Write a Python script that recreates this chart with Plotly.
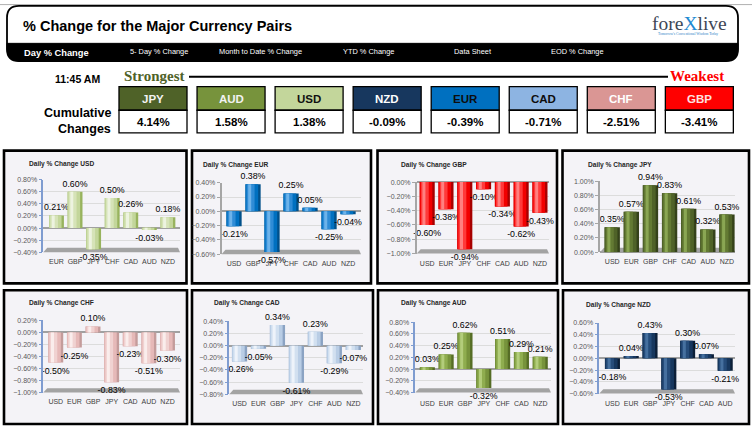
import plotly.graph_objects as go

W, H = 752, 431

# ---------------- data ----------------
strength_ccy = ["JPY", "AUD", "USD", "NZD", "EUR", "CAD", "CHF", "GBP"]
strength_val = [4.14, 1.58, 1.38, -0.09, -0.39, -0.71, -2.51, -3.41]

tab_labels = ["Day % Change", "5- Day % Change", "Month to Date % Change",
              "YTD % Change", "Data Sheet", "EOD % Change"]

usd_cats = ["EUR", "GBP", "JPY", "CHF", "CAD", "AUD", "NZD"]
usd_vals = [0.21, 0.60, -0.35, 0.50, 0.26, -0.03, 0.18]
eur_cats = ["USD", "GBP", "JPY", "CHF", "CAD", "AUD", "NZD"]
eur_vals = [-0.21, 0.38, -0.57, 0.25, 0.05, -0.25, -0.04]
gbp_cats = ["USD", "EUR", "JPY", "CHF", "CAD", "AUD", "NZD"]
gbp_vals = [-0.60, -0.38, -0.94, -0.10, -0.34, -0.62, -0.43]
jpy_cats = ["USD", "EUR", "GBP", "CHF", "CAD", "AUD", "NZD"]
jpy_vals = [0.35, 0.57, 0.94, 0.83, 0.61, 0.32, 0.53]
chf_cats = ["USD", "EUR", "GBP", "JPY", "CAD", "AUD", "NZD"]
chf_vals = [-0.50, -0.25, 0.10, -0.83, -0.23, -0.51, -0.30]
cad_cats = ["USD", "EUR", "GBP", "JPY", "CHF", "AUD", "NZD"]
cad_vals = [-0.26, -0.05, 0.34, -0.61, 0.23, -0.29, -0.07]
aud_cats = ["USD", "EUR", "GBP", "JPY", "CHF", "CAD", "NZD"]
aud_vals = [0.03, 0.25, 0.62, -0.32, 0.51, 0.29, 0.21]
nzd_cats = ["USD", "EUR", "GBP", "JPY", "CHF", "CAD", "AUD"]
nzd_vals = [-0.18, 0.04, 0.43, -0.53, 0.30, 0.07, -0.21]

# ---------------- styling / layout ----------------
box_fill = ["#4F6228", "#77933C", "#C3D69B", "#17375E", "#0070C0", "#8DB4E2", "#DA9694", "#FF0000"]
box_text = ["#F2F2F2", "#F2F2F2", "#111111", "#FFFFFF", "#0D0D0D", "#0D0D0D", "#FFFFFF", "#FFE0E0"]

BLUE_AX = "#7F9CD0"
GRAY_AX = "#A6A6A6"
SANS = "Arial, Liberation Sans, sans-serif"
SERIF = "Liberation Serif, Times New Roman, serif"

panels = [
    dict(name="USD", cats=usd_cats, vals=usd_vals, box=(4, 149, 186.5, 284),
         plot=(43.3, 178.7, 180, 252.3), xr=(-0.71, 6.65), yr=(-0.4, 0.8),
         title=(26.7, 162.3), gap=10, axis=BLUE_AX,
         col=("#98B35E", "#C3D69B", "#D6E3B8", "#EDF3E0")),
    dict(name="EUR", cats=eur_cats, vals=eur_vals, box=(192, 149, 371, 284),
         plot=(221.5, 181.7, 361, 254.3), xr=(-0.66, 6.68), yr=(-0.6, 0.4),
         title=(201, 163.3), gap=10, axis=GRAY_AX,
         col=("#00508A", "#0070C0", "#2F8CD6", "#6DB3EA")),
    dict(name="GBP", cats=gbp_cats, vals=gbp_vals, box=(377.5, 149, 557, 284),
         plot=(416.7, 181, 549, 253.7), xr=(-0.56, 6.48), yr=(-1.0, 0.0),
         title=(398.7, 163.3), gap=10, axis=GRAY_AX,
         col=("#A80000", "#F20000", "#FF3A3A", "#FF8080")),
    dict(name="JPY", cats=jpy_cats, vals=jpy_vals, box=(562.5, 149, 749, 284),
         plot=(600, 180, 735, 252.3), xr=(-0.64, 6.42), yr=(0.0, 1.0),
         title=(586, 163.3), gap=10, axis=GRAY_AX,
         col=("#35421A", "#4F6228", "#637A33", "#8AA653")),
    dict(name="CHF", cats=chf_cats, vals=chf_vals, box=(4, 291, 187, 427),
         plot=(43.3, 321.7, 180, 395), xr=(-0.67, 6.67), yr=(-1.0, 0.2),
         title=(26.7, 304.3), gap=9, axis=BLUE_AX,
         col=("#C49C9B", "#E6B9B8", "#F0D2D1", "#FAEDEC")),
    dict(name="CAD", cats=cad_cats, vals=cad_vals, box=(192, 291, 373, 427),
         plot=(229.3, 322.7, 363, 396.7), xr=(-0.54, 6.51), yr=(-0.8, 0.4),
         title=(211.7, 304.3), gap=10, axis=BLUE_AX,
         col=("#8BA3C3", "#B9CDE5", "#D2E0F0", "#EEF3FA")),
    dict(name="AUD", cats=aud_cats, vals=aud_vals, box=(378, 291, 558, 427),
         plot=(415.3, 323.3, 551, 395), xr=(-0.64, 6.57), yr=(-0.4, 0.8),
         title=(399.3, 304.3), gap=11, axis=BLUE_AX,
         col=("#566D26", "#77933C", "#8FAD4F", "#B3CD7B")),
    dict(name="NZD", cats=nzd_cats, vals=nzd_vals, box=(563, 291, 749, 427),
         plot=(599.3, 324.3, 735, 396), xr=(-0.70, 6.52), yr=(-0.6, 0.6),
         title=(584, 305.7), gap=10, axis=BLUE_AX,
         col=("#0C1F38", "#17375E", "#264C7A", "#46709F")),
]


def P(x):
    return x / W


def Q(y):
    return 1 - y / H


def rpath(x0, y0, x1, y1, rtl, rtr, rbr, rbl):
    pts = []
    pts.append(f"M{P(x0 + rtl)},{Q(y0)}")
    pts.append(f"L{P(x1 - rtr)},{Q(y0)}")
    pts.append(f"Q{P(x1)},{Q(y0)} {P(x1)},{Q(y0 + rtr)}")
    pts.append(f"L{P(x1)},{Q(y1 - rbr)}")
    pts.append(f"Q{P(x1)},{Q(y1)} {P(x1 - rbr)},{Q(y1)}")
    pts.append(f"L{P(x0 + rbl)},{Q(y1)}")
    pts.append(f"Q{P(x0)},{Q(y1)} {P(x0)},{Q(y1 - rbl)}")
    pts.append(f"L{P(x0)},{Q(y0 + rtl)}")
    pts.append(f"Q{P(x0)},{Q(y0)} {P(x0 + rtl)},{Q(y0)}")
    return " ".join(pts) + " Z"


fig = go.Figure()
shapes = []
annotations = []
layout_axes = {}

# top thin gray line
shapes.append(dict(type="line", xref="paper", yref="paper", x0=0, x1=1, y0=Q(0.6), y1=Q(0.6),
                   line=dict(color="#B0B0B0", width=1), layer="below"))
# header box
shapes.append(dict(type="path", xref="paper", yref="paper", path=rpath(7, 2, 738, 58, 12, 12, 12, 12),
                   fillcolor="white", line=dict(color="black", width=1.8), layer="below"))
shapes.append(dict(type="path", xref="paper", yref="paper", path=rpath(7, 40, 738, 58, 0, 0, 12, 12),
                   fillcolor="black", line=dict(color="black", width=1), layer="below"))

annotations.append(dict(text="% Change for the Major Currency Pairs", x=P(21), y=Q(22.5),
                        xref="paper", yref="paper", xanchor="left", yanchor="middle", showarrow=False,
                        font=dict(family=SANS, size=14.5, color="black", weight="bold")))

tab_x = [22, 128.3, 217.3, 340.7, 452, 549.3]
for i, (lab, tx) in enumerate(zip(tab_labels, tab_x)):
    annotations.append(dict(text=lab, x=P(tx), y=Q(49.5 if i == 0 else 48.5), xref="paper", yref="paper",
                            xanchor="left", yanchor="middle", showarrow=False,
                            font=dict(family=SANS, size=9.3 if i == 0 else 7.4, color="white",
                                      weight="bold" if i == 0 else "normal")))

# logo
annotations.append(dict(text="fore<span style='color:#1E8AD2'>X</span>live", x=P(689), y=Q(19.5),
                        xref="paper", yref="paper", xanchor="center", yanchor="middle", showarrow=False,
                        font=dict(family=SERIF, size=19.5, color="#3E4756")))
annotations.append(dict(text="Tomorrow's Conventional Wisdom Today", x=P(688), y=Q(31), xref="paper", yref="paper",
                        xanchor="center", yanchor="middle", showarrow=False,
                        font=dict(family=SERIF, size=3.6, color="#2F7FC8")))

# strength row
annotations.append(dict(text="11:45 AM", x=P(53.3), y=Q(76.5), xref="paper", yref="paper", xanchor="left",
                        yanchor="middle", showarrow=False,
                        font=dict(family=SANS, size=10.5, color="black", weight="bold")))
annotations.append(dict(text="Strongest", x=P(121.7), y=Q(73.3), xref="paper", yref="paper", xanchor="left",
                        yanchor="middle", showarrow=False,
                        font=dict(family=SERIF, size=15, color="#4F6228", weight="bold")))
annotations.append(dict(text="Weakest", x=P(726), y=Q(73.3), xref="paper", yref="paper", xanchor="right",
                        yanchor="middle", showarrow=False,
                        font=dict(family=SERIF, size=15, color="#FF0000", weight="bold")))
shapes.append(dict(type="line", xref="paper", yref="paper", x0=P(189), x1=P(668), y0=Q(74), y1=Q(74),
                   line=dict(color="black", width=2), layer="below"))
annotations.append(dict(text="Cumulative", x=P(112.5), y=Q(110.7), xref="paper", yref="paper", xanchor="right",
                        yanchor="middle", showarrow=False,
                        font=dict(family=SANS, size=12.5, color="black", weight="bold")))
annotations.append(dict(text="Changes", x=P(112.5), y=Q(126.7), xref="paper", yref="paper", xanchor="right",
                        yanchor="middle", showarrow=False,
                        font=dict(family=SANS, size=12.5, color="black", weight="bold")))

for i, (ccy, val) in enumerate(zip(strength_ccy, strength_val)):
    x0 = 119 + 78.05 * i
    x1 = x0 + 68
    shapes.append(dict(type="rect", xref="paper", yref="paper", x0=P(x0), x1=P(x1), y0=Q(108), y1=Q(84),
                       fillcolor=box_fill[i], line=dict(color="black", width=1.3), layer="below"))
    shapes.append(dict(type="rect", xref="paper", yref="paper", x0=P(x0), x1=P(x1), y0=Q(131), y1=Q(108),
                       fillcolor="white", line=dict(color="black", width=1.3), layer="below"))
    annotations.append(dict(text=ccy, x=P((x0 + x1) / 2), y=Q(96.5), xref="paper", yref="paper",
                            xanchor="center", yanchor="middle", showarrow=False,
                            font=dict(family=SANS, size=11.5, color=box_text[i], weight="bold")))
    annotations.append(dict(text=f"{val:.2f}%", x=P((x0 + x1) / 2), y=Q(120), xref="paper", yref="paper",
                            xanchor="center", yanchor="middle", showarrow=False,
                            font=dict(family=SANS, size=11.5, color="black", weight="bold")))

BW = 0.8
for k, pn in enumerate(panels):
    idx = k + 1
    xa = "x" if idx == 1 else f"x{idx}"
    ya = "y" if idx == 1 else f"y{idx}"
    bx0, by0, bx1, by1 = pn["box"]
    shapes.append(dict(type="rect", xref="paper", yref="paper", x0=P(bx0), x1=P(bx1), y0=Q(by1), y1=Q(by0),
                       fillcolor="#F4F3F7", line=dict(color="black", width=2.6), layer="below"))
    l, t, r, b = pn["plot"]
    # floor
    fh = 4.5
    floor = (f"M{P(l)},{Q(b)} L{P(r)},{Q(b)} L{P(r - 2)},{Q(b - fh)} L{P(l + 4)},{Q(b - fh)} Z")
    shapes.append(dict(type="path", xref="paper", yref="paper", path=floor, fillcolor="#A3A3A3",
                       line=dict(width=0), layer="below"))
    # bars as shaded cylinders
    edge, main, mid, hi = pn["col"]
    lay = [(1.0, -0.5, edge), (0.84, -0.5, main), (0.52, -0.42, mid), (0.2, -0.32, hi)]
    for j, (wf, of, c) in enumerate(lay):
        tr = go.Bar(x=pn["cats"], y=pn["vals"], xaxis=xa, yaxis=ya, width=BW * wf, offset=BW * of,
                    marker=dict(color=c, line=dict(width=0)), showlegend=False, hoverinfo="skip")
        if j == 0:
            tr.update(text=[f"{v:.2f}%" for v in pn["vals"]], textposition="outside", cliponaxis=False,
                      constraintext="none",
                      textfont=dict(family=SANS, size=8.8, color="black"))
        fig.add_trace(tr)
    ax_key = "xaxis" if idx == 1 else f"xaxis{idx}"
    ay_key = "yaxis" if idx == 1 else f"yaxis{idx}"
    layout_axes[ax_key] = dict(domain=[P(l), P(r)], anchor=ya, type="category", range=list(pn["xr"]),
                               showgrid=False, zeroline=False, showline=False, ticks="",
                               ticklabelstandoff=int(round(pn["gap"] - 6)),
                               tickfont=dict(family=SANS, size=7, color="#404040"), fixedrange=True)
    layout_axes[ay_key] = dict(domain=[Q(b), Q(t)], anchor=xa, range=list(pn["yr"]), dtick=0.2, tick0=0,
                               tickformat=".2f", ticksuffix="%", showgrid=True, gridcolor="#DCDCDC",
                               gridwidth=1, zeroline=True, zerolinecolor="#A0A0A0", zerolinewidth=1.5,
                               showline=True, linecolor=pn["axis"], linewidth=1.5, ticks="outside",
                               ticklen=3, tickcolor=pn["axis"],
                               tickfont=dict(family=SANS, size=7, color="#595959"), fixedrange=True)
    tx, ty = pn["title"]
    annotations.append(dict(text=f"Daily % Change {pn['name']}", x=P(tx), y=Q(ty), xref="paper", yref="paper",
                            xanchor="left", yanchor="middle", showarrow=False,
                            font=dict(family=SANS, size=6.6, color="#262626", weight="bold")))

fig.update_layout(width=W, height=H, margin=dict(l=0, r=0, t=0, b=0), autosize=False,
                  paper_bgcolor="white", plot_bgcolor="rgba(0,0,0,0)", barmode="overlay",
                  showlegend=False, shapes=shapes, annotations=annotations, **layout_axes)

fig.write_html("out.html")
